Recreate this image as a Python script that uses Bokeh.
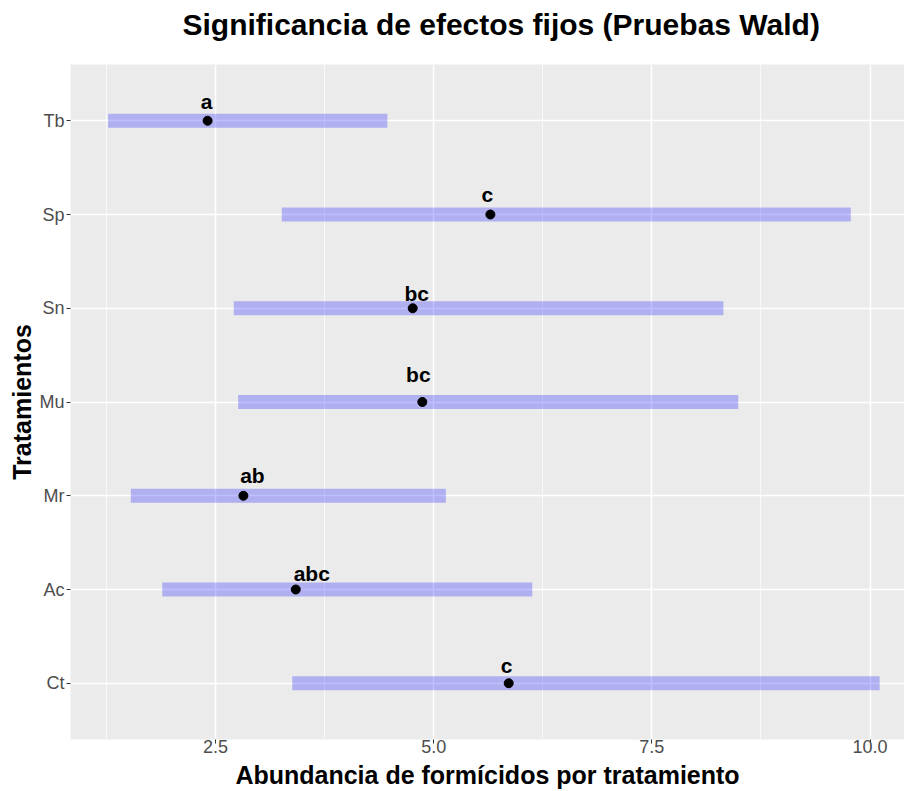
from bokeh.plotting import figure
from bokeh.models import ColumnDataSource, FactorRange, FixedTicker, Range1d, NumeralTickFormatter
from bokeh.core.properties import value
from bokeh.embed import file_html
from bokeh.resources import INLINE

# ---- data ----
treatments = ["Tb", "Sp", "Sn", "Mu", "Mr", "Ac", "Ct"]
estimate = [2.41, 5.65, 4.76, 4.87, 2.82, 3.42, 5.86]
lower = [1.27, 3.26, 2.71, 2.76, 1.53, 1.89, 3.38]
upper = [4.47, 9.78, 8.32, 8.49, 5.14, 6.13, 10.11]
letters = ["a", "c", "bc", "bc", "ab", "abc", "c"]
x_ticks = [2.5, 5.0, 7.5, 10.0]
x_minor = [1.25, 3.75, 6.25, 8.75]

# label nudges (screen pixels)
label_dx = [-1, -3, 4, -4, 9, 16, -2]
label_dy = [-19, -20, -15, -28, -20, -16, -18]

FONT = "Liberation Sans"
factors = treatments[::-1]

src = ColumnDataSource(dict(trt=treatments, est=estimate, lo=lower, hi=upper,
                            lab=letters, dx=label_dx, dy=label_dy))

p = figure(width=904, height=791,
           y_range=FactorRange(factors=factors, range_padding=0.1,
                               range_padding_units="absolute"),
           x_range=Range1d(0.839, 10.395),
           output_backend="svg", toolbar_location=None,
           min_border_left=70, min_border_right=0, min_border_top=64,
           min_border_bottom=10)

p.title.text = "Significancia de efectos fijos (Pruebas Wald)\n "
p.title.text_font = FONT
p.title.text_font_size = "30px"
p.title.text_font_style = "bold"
p.title.text_color = "black"
p.title.text_line_height = 0.55
p.title.align = "left"
p.title.offset = 112

p.background_fill_color = "#EBEBEB"
p.border_fill_color = "white"
p.outline_line_color = None

p.xaxis.ticker = FixedTicker(ticks=x_ticks, minor_ticks=x_minor)
p.xaxis.formatter = NumeralTickFormatter(format="0.0")

p.xgrid.grid_line_color = "white"
p.xgrid.grid_line_width = 1.5
p.xgrid.minor_grid_line_color = "white"
p.xgrid.minor_grid_line_width = 0.7
p.ygrid.grid_line_color = "white"
p.ygrid.grid_line_width = 1.5

p.axis.axis_line_color = None
p.axis.major_tick_line_color = "#333333"
p.axis.major_tick_in = 0
p.axis.major_tick_out = 4
p.axis.minor_tick_line_color = None
p.axis.major_label_text_font = FONT
p.axis.major_label_text_font_size = "18px"
p.axis.major_label_text_color = "#4D4D4D"
p.yaxis.major_label_standoff = 2
p.xaxis.major_label_standoff = -4
p.axis.axis_label_text_font = FONT
p.axis.axis_label_text_font_size = "25px"
p.axis.axis_label_text_font_style = "bold"
p.axis.axis_label_text_color = "black"
p.yaxis.axis_label_standoff = 0
p.xaxis.axis_label_standoff = 5
p.xaxis.axis_label = "Abundancia de formícidos por tratamiento"
p.yaxis.axis_label = "Tratamientos"

p.hbar(y="trt", left="lo", right="hi", height=0.15, fill_color="#0000FF",
       fill_alpha=0.25, line_color=None, source=src)
p.scatter(x="est", y="trt", size=9, fill_color="black", line_color="black",
          source=src)
p.text(x="est", y="trt", text="lab", x_offset="dx", y_offset="dy",
       text_align="center", text_baseline="alphabetic",
       text_font=value(FONT), text_font_style="bold", text_font_size="21px",
       text_color="black", source=src)

open("out.html", "w").write(file_html(p, INLINE))
